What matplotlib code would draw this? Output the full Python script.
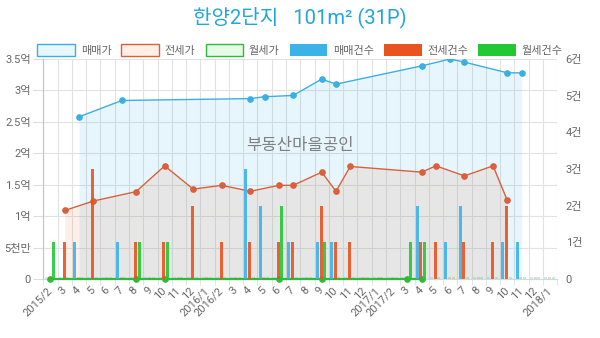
import numpy as np
import matplotlib
matplotlib.use('Agg')
import matplotlib.pyplot as plt
from matplotlib.patches import Patch

plt.rcParams['font.family'] = ['Roboto', 'Noto Sans CJK KR', 'DejaVu Sans']

nan = np.nan
months = ['2015/2', '3', '4', '5', '6', '7', '8', '9', '10', '11', '12',
          '2016/1', '2016/2', '3', '4', '5', '6', '7', '8', '9', '10', '11', '12',
          '2017/1', '2017/2', '3', '4', '5', '6', '7', '8', '9', '10', '11', '12',
          '2018/1']

# prices in 억 (100M KRW)
sale_price = [nan, nan, 2.58, nan, nan, 2.84, nan, nan, nan, nan, nan,
              nan, nan, nan, 2.87, 2.90, nan, 2.92, nan, 3.18, 3.10, nan, nan,
              nan, nan, nan, 3.39, nan, 3.50, 3.45, nan, nan, 3.28, 3.28, nan,
              nan]
jeonse_price = [nan, 1.09, nan, 1.24, nan, nan, 1.39, nan, 1.80, nan, 1.43,
                nan, 1.49, nan, 1.395, nan, 1.49, 1.49, nan, 1.70, 1.395, 1.79, nan,
                nan, nan, nan, 1.70, 1.80, nan, 1.64, nan, 1.80, 1.25, nan, nan,
                nan]
wolse_price = [0, nan, nan, nan, nan, nan, 0, nan, 0, nan, nan,
               nan, nan, nan, nan, nan, 0, nan, nan, 0, nan, nan, nan,
               nan, nan, 0, 0, nan, nan, nan, nan, nan, nan, nan, nan,
               nan]

# transaction counts (건)
sale_cnt = [0, 0, 1, 0, 0, 1, 0, 0, 0, 0, 0,
            0, 0, 0, 3, 2, 0, 1, 0, 1, 1, 0, 0,
            0, 0, 0, 2, 0, 1, 2, 0, 0, 1, 1, 0,
            0]
jeonse_cnt = [0, 1, 0, 3, 0, 0, 1, 0, 1, 0, 2,
              0, 1, 0, 1, 0, 1, 1, 0, 2, 1, 1, 0,
              0, 0, 0, 1, 1, 0, 1, 0, 1, 2, 0, 0,
              0]
wolse_cnt = [1, 0, 0, 0, 0, 0, 1, 0, 1, 0, 0,
             0, 0, 0, 0, 0, 2, 0, 0, 1, 0, 0, 0,
             0, 0, 1, 1, 0, 0, 0, 0, 0, 0, 0, 0,
             0]

left_ticks = [0, 0.5, 1, 1.5, 2, 2.5, 3, 3.5]
left_labels = ['0', '5천만', '1억', '1.5억', '2억', '2.5억', '3억', '3.5억']
right_ticks = [0, 1, 2, 3, 4, 5, 6]
right_labels = ['0', '1건', '2건', '3건', '4건', '5건', '6건']

title = '한양2단지   101m² (31P)'
watermark = '부동산마을공인'

c_sale = '#3ab0e2'
c_jeonse = '#d9603a'
c_wolse = '#2dbb3a'
bar_sale = '#3cb3e8'
bar_jeonse = '#e8531f'
bar_wolse = '#22c935'

W, H = 600, 338
fig = plt.figure(figsize=(W / 100, H / 100), dpi=100)
ax = fig.add_axes([43.3 / W, 59 / H, 514 / W, 220 / H])
ax.set_xlim(-0.5, len(months) - 0.5)
ax.set_ylim(0, 3.5)
axb = ax.twinx()
axb.set_ylim(0, 6)

x = np.arange(len(months))

def series(vals):
    v = np.array(vals, dtype=float)
    m = ~np.isnan(v)
    return x[m], v[m]

# fills
xs, ys = series(sale_price)
ax.fill_between(xs, ys, 0, color=(60/255, 180/255, 235/255, 0.12), lw=0, zorder=1)
xj, yj = series(jeonse_price)
ax.fill_between(xj, yj, 0, color=(232/255, 106/255, 43/255, 0.10), lw=0, zorder=1)

# lines
ax.plot(xs, ys, color=c_sale, lw=1.0, marker='o', ms=3.8, zorder=3)
ax.plot(xj, yj, color=c_jeonse, lw=1.0, marker='o', ms=3.8, zorder=3)
xw, yw = series(wolse_price)
ax.plot(xw, yw, color=c_wolse, lw=1.6, marker='o', ms=3.8, zorder=3, clip_on=False)

# bars
bw = 0.21
for cnt, off, col in [(sale_cnt, -0.31, bar_sale), (jeonse_cnt, -0.05, bar_jeonse), (wolse_cnt, 0.21, bar_wolse)]:
    c = np.array(cnt, dtype=float)
    axb.bar(x + off, c, width=bw, color=col, alpha=0.9, zorder=2, lw=0)
    zero = c == 0
    axb.bar((x + off)[zero], np.full(zero.sum(), 0.05), width=bw, color=col, alpha=0.25, zorder=2, lw=0)

# axes styling
ax.set_yticks(left_ticks)
ax.set_yticklabels(left_labels)
axb.set_yticks(right_ticks)
axb.set_yticklabels(right_labels)
ax.set_xticks(x)
ax.set_xticklabels(months, rotation=45, ha='right', va='center', rotation_mode='anchor')
ax.set_xticks(np.arange(-0.5, len(months), 1), minor=True)

ax.grid(which='minor', axis='x', color='#e2e2e2', lw=0.8)
ax.grid(which='major', axis='y', color='#e2e2e2', lw=0.8)
ax.set_axisbelow(True)

ax.tick_params(axis='x', which='major', length=0, pad=7, labelsize=8, labelcolor='#666666')
ax.tick_params(axis='x', which='minor', length=4, color='#e2e2e2')
ax.tick_params(axis='y', length=7, color='#dddddd', pad=2, labelsize=8, labelcolor='#666666')
axb.tick_params(axis='y', length=0, pad=6, labelsize=8, labelcolor='#666666')

for s in ['top', 'right']:
    ax.spines[s].set_visible(False)
for s in axb.spines.values():
    s.set_visible(False)
ax.spines['left'].set_color('#c4c4c4')
ax.spines['bottom'].set_color('#cfd9df')

# title and watermark
fig.text(0.5, 1 - 17 / H, title, ha='center', va='center', fontsize=14.5, color='#22a6da')
fig.text(0.5, 1 - 145 / H, watermark, ha='center', va='center', fontsize=12, color='#808080')

# legend
handles = [
    Patch(facecolor='#e8f6fd', edgecolor=c_sale, lw=1, label='매매가'),
    Patch(facecolor='#fdeee6', edgecolor=c_jeonse, lw=1, label='전세가'),
    Patch(facecolor='#e6fae6', edgecolor=c_wolse, lw=1, label='월세가'),
    Patch(facecolor=bar_sale, edgecolor='none', label='매매건수'),
    Patch(facecolor=bar_jeonse, edgecolor='none', label='전세건수'),
    Patch(facecolor=bar_wolse, edgecolor='none', label='월세건수'),
]
leg = fig.legend(handles=handles, loc='center', bbox_to_anchor=(0.5, 1 - 50 / H), ncol=6,
                 frameon=False, fontsize=8, handlelength=3.4, handleheight=1.25,
                 handletextpad=0.5, columnspacing=0.9, borderaxespad=0)
for t in leg.get_texts():
    t.set_color('#666666')

fig.savefig('out.png', dpi=100)
